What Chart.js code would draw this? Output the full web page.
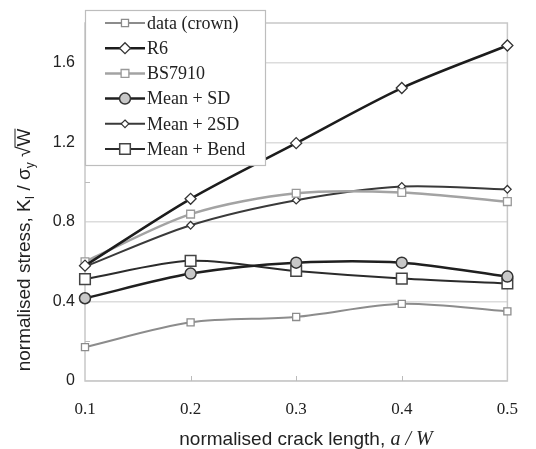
<!DOCTYPE html>
<html>
<head>
<meta charset="utf-8">
<script src="https://cdn.jsdelivr.net/npm/chart.js"></script>
<style>
  html, body { margin: 0; padding: 0; background: #fff; }
  #wrap { width: 536px; height: 449px; }
</style>
</head>
<body>
<div id="wrap"><canvas id="myChart" width="536" height="449"></canvas></div>
<script>
// crack length ratio a/W
var crackLength = [0.1, 0.2, 0.3, 0.4, 0.5];

// normalised stress
var dataCrown = [0.17, 0.295, 0.322, 0.388, 0.35];
var r6 = [0.58, 0.916, 1.196, 1.473, 1.687];
var bs7910 = [0.60, 0.839, 0.944, 0.948, 0.902];
var meanSD = [0.416, 0.54, 0.595, 0.595, 0.525];
var mean2SD = [0.575, 0.783, 0.909, 0.978, 0.964];
var meanBend = [0.512, 0.604, 0.553, 0.515, 0.49];

var seriesNames = ['data (crown)', 'R6', 'BS7910', 'Mean + SD', 'Mean + 2SD', 'Mean + Bend'];
var yTickLabels = ['0', '0.4', '0.8', '1.2', '1.6'];

function pts(values) {
  var out = [];
  for (var i = 0; i < crackLength.length; i++) {
    out.push({ x: crackLength[i], y: values[i] });
  }
  return out;
}

var datasets = [
  { label: seriesNames[0], data: pts(dataCrown), borderColor: '#8c8c8c', borderWidth: 2,
    pointStyle: 'rect', pointRadius: 5, pointBackgroundColor: '#fff', pointBorderColor: '#8c8c8c', pointBorderWidth: 1.3 },
  { label: seriesNames[1], data: pts(r6), borderColor: '#1c1c1c', borderWidth: 2.5,
    pointStyle: 'rectRot', pointRadius: 5.5, pointBackgroundColor: '#fff', pointBorderColor: '#333', pointBorderWidth: 1.3 },
  { label: seriesNames[2], data: pts(bs7910), borderColor: '#a3a3a3', borderWidth: 2.5,
    pointStyle: 'rect', pointRadius: 5.5, pointBackgroundColor: '#fff', pointBorderColor: '#999', pointBorderWidth: 1.3 },
  { label: seriesNames[3], data: pts(meanSD), borderColor: '#1f1f1f', borderWidth: 2.5,
    pointStyle: 'circle', pointRadius: 5.5, pointBackgroundColor: '#c8c8c8', pointBorderColor: '#333', pointBorderWidth: 1.5 },
  { label: seriesNames[4], data: pts(mean2SD), borderColor: '#3a3a3a', borderWidth: 2,
    pointStyle: 'rectRot', pointRadius: 3.8, pointBackgroundColor: '#fff', pointBorderColor: '#333', pointBorderWidth: 1.2 },
  { label: seriesNames[5], data: pts(meanBend), borderColor: '#2b2b2b', borderWidth: 2,
    pointStyle: 'rect', pointRadius: 7.5, pointBackgroundColor: '#fff', pointBorderColor: '#444', pointBorderWidth: 1.5 }
];
datasets.forEach(function(d) { d.clip = false; });

function marker(ctx, style, x, y, r) {
  ctx.beginPath();
  if (style === 'circle') {
    ctx.arc(x, y, r, 0, Math.PI * 2);
  } else if (style === 'rect') {
    var s = Math.SQRT1_2 * r;
    ctx.rect(x - s, y - s, 2 * s, 2 * s);
  } else {
    ctx.moveTo(x, y - r); ctx.lineTo(x + r, y); ctx.lineTo(x, y + r); ctx.lineTo(x - r, y);
    ctx.closePath();
  }
  ctx.fill();
  ctx.stroke();
}

var decorations = {
  id: 'decorations',
  beforeDatasetsDraw: function(chart) {
    var ctx = chart.ctx, a = chart.chartArea;
    var xs = chart.scales.x, ys = chart.scales.y;
    ctx.save();
    ctx.strokeStyle = '#c8c8c8';
    ctx.lineWidth = 1.5;
    ctx.strokeRect(a.left, a.top, a.right - a.left, a.bottom - a.top);
    // inner ticks
    ctx.lineWidth = 1;
    ctx.strokeStyle = '#bbb';
    for (var i = 1; i < crackLength.length - 1; i++) {
      var px = Math.round(xs.getPixelForValue(crackLength[i])) + 0.5;
      ctx.beginPath(); ctx.moveTo(px, a.bottom); ctx.lineTo(px, a.bottom - 5); ctx.stroke();
    }
    for (var v = 1; v < 9; v += 2) {
      var py = Math.round(ys.getPixelForValue(v / 5)) + 0.5;
      ctx.beginPath(); ctx.moveTo(a.left, py); ctx.lineTo(a.left + 5, py); ctx.stroke();
    }
    ctx.restore();
  },
  afterDatasetsDraw: function(chart) {
    var ctx = chart.ctx;
    ctx.save();
    // legend box
    var bx = 85, by = 10, bw = 180, bh = 155;
    ctx.fillStyle = '#fff';
    ctx.fillRect(bx, by, bw, bh);
    ctx.strokeStyle = '#bdbdbd';
    ctx.lineWidth = 1.2;
    ctx.strokeRect(bx + 0.5, by + 0.5, bw, bh);
    ctx.font = '18px "Liberation Serif"';
    ctx.textBaseline = 'middle';
    for (var i = 0; i < datasets.length; i++) {
      var d = datasets[i];
      var yy = 23 + i * 25.2;
      ctx.strokeStyle = d.borderColor;
      ctx.lineWidth = d.borderWidth;
      ctx.beginPath(); ctx.moveTo(105, yy); ctx.lineTo(145, yy); ctx.stroke();
      ctx.fillStyle = d.pointBackgroundColor;
      ctx.strokeStyle = d.pointBorderColor;
      ctx.lineWidth = d.pointBorderWidth;
      marker(ctx, d.pointStyle, 125, yy, d.pointRadius);
      ctx.fillStyle = '#222';
      ctx.fillText(d.label, 147, yy + 1);
    }
    // x title
    ctx.textBaseline = 'alphabetic';
    ctx.fillStyle = '#222';
    var t1 = 'normalised crack length, ';
    ctx.font = '19px "Liberation Sans"';
    var w1 = ctx.measureText(t1).width;
    ctx.font = 'italic 20px "Liberation Serif"';
    var w2 = ctx.measureText('a / W').width;
    var sx = 306 - (w1 + w2) / 2;
    ctx.font = '19px "Liberation Sans"';
    ctx.fillText(t1, sx, 445);
    ctx.font = 'italic 20px "Liberation Serif"';
    ctx.fillText('a / W', sx + w1, 445);
    // y title, rotated
    ctx.translate(30, 250);
    ctx.rotate(-Math.PI / 2);
    var parts = [
      { t: 'normalised stress, K', f: '19px "Liberation Sans"', dy: 0 },
      { t: 'I', f: '12px "Liberation Sans"', dy: 4 },
      { t: ' / \u03c3', f: '19px "Liberation Sans"', dy: 0 },
      { t: 'y', f: '12px "Liberation Sans"', dy: 4 },
      { t: ' \u221aW', f: '19px "Liberation Sans"', dy: 0 }
    ];
    var total = 0;
    for (var k = 0; k < parts.length; k++) { ctx.font = parts[k].f; parts[k].w = ctx.measureText(parts[k].t).width; total += parts[k].w; }
    var cx = -total / 2;
    for (var k = 0; k < parts.length; k++) {
      ctx.font = parts[k].f;
      ctx.fillText(parts[k].t, cx, parts[k].dy);
      if (k === 4) {
        var sq = ctx.measureText(' \u221a').width;
        ctx.lineWidth = 1;
        ctx.strokeStyle = '#222';
        ctx.beginPath(); ctx.moveTo(cx + sq - 1, -15); ctx.lineTo(cx + parts[k].w, -15); ctx.stroke();
      }
      cx += parts[k].w;
    }
    ctx.restore();
  }
};

var ctx = document.getElementById('myChart').getContext('2d');
var myChart = new Chart(ctx, {
  type: 'line',
  data: { datasets: datasets },
  options: {
    responsive: false,
    animation: false,
    layout: { padding: { left: 0, right: 10, top: 23, bottom: 0 } },
    elements: { line: { tension: 0.3, fill: false } },
    plugins: { legend: { display: false }, tooltip: { enabled: false } },
    scales: {
      x: {
        type: 'linear', min: 0.1, max: 0.5,
        afterFit: function(s) { s.height = 68; },
        afterBuildTicks: function(s) { s.ticks = crackLength.map(function(v) { return { value: v }; }); },
        grid: { display: false, drawTicks: false },
        border: { display: false },
        ticks: { padding: 18, color: '#222', font: { family: 'Liberation Serif', size: 17 },
          callback: function(v) { return v.toFixed(1); } }
      },
      y: {
        min: 0, max: 1.8,
        afterFit: function(s) { s.width = 85; },
        afterBuildTicks: function(s) {
          var t = [];
          for (var i = 0; i < yTickLabels.length; i++) t.push({ value: parseFloat(yTickLabels[i]) });
          s.ticks = t;
        },
        grid: { color: '#dcdcdc', lineWidth: 1.5, drawTicks: false },
        border: { display: false },
        ticks: { padding: 10, color: '#222', font: { family: 'Liberation Sans', size: 16 },
          callback: function(v, i) { return yTickLabels[i]; } }
      }
    }
  },
  plugins: [decorations]
});
</script>
</body>
</html>
